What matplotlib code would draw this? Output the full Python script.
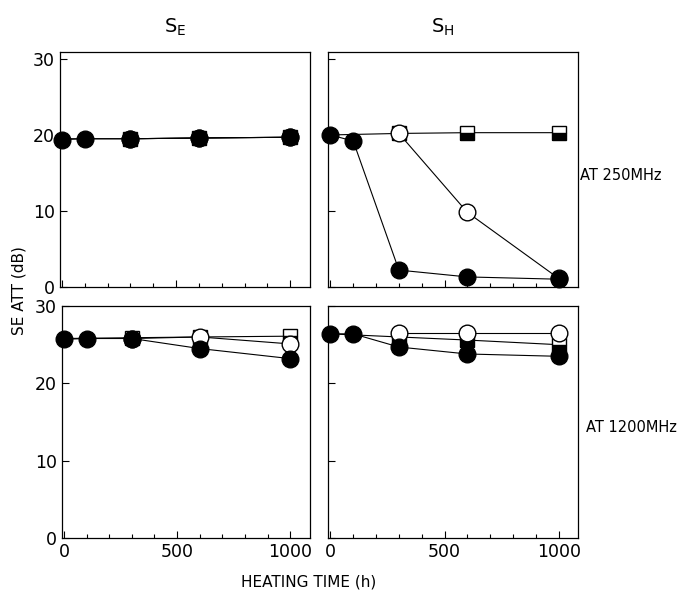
import numpy as np
import matplotlib
matplotlib.use('Agg')
import matplotlib.pyplot as plt
from matplotlib.ticker import MultipleLocator

plt.rcParams['font.family'] = ['DejaVu Sans']
plt.rcParams['mathtext.fontset'] = 'dejavusans'

# heating times (h)
t_all = [0, 100, 300, 600, 1000]
t_late = [300, 600, 1000]
t_sq = [0, 300, 600, 1000]

# S_E at 250 MHz
se250_filled = [19.4, 19.5, 19.5, 19.6, 19.7]
se250_open = [19.5, 19.6, 19.7]
se250_square = [19.5, 19.5, 19.6, 19.7]

# S_H at 250 MHz
sh250_filled = [20.0, 19.2, 2.2, 1.3, 1.0]
sh250_open = [20.2, 9.8, 1.1]
sh250_square = [20.0, 20.2, 20.3, 20.3]

# S_E at 1200 MHz
se1200_filled = [25.7, 25.8, 25.8, 24.5, 23.2]
se1200_open = [25.8, 26.0, 25.1]
se1200_square = [25.8, 25.9, 26.0, 26.1]

# S_H at 1200 MHz
sh1200_filled = [26.4, 26.4, 24.7, 23.8, 23.5]
sh1200_open = [26.5, 26.5, 26.5]
sh1200_square = [26.4, 26.0, 25.6, 25.0]

panels = [
    (se250_filled, se250_open, se250_square, 30.9),
    (sh250_filled, sh250_open, sh250_square, 30.9),
    (se1200_filled, se1200_open, se1200_square, 30),
    (sh1200_filled, sh1200_open, sh1200_square, 30),
]

fig = plt.figure(figsize=(6.85, 6.0), dpi=100)
pos = [[0.087, 0.522, 0.365, 0.391],
       [0.479, 0.522, 0.365, 0.391],
       [0.090, 0.103, 0.362, 0.387],
       [0.479, 0.103, 0.365, 0.387]]

ms = 12
for i, (filled, opn, sq, ytop) in enumerate(panels):
    ax = fig.add_axes(pos[i])
    ax.plot(t_sq, sq, color='black', lw=0.8, marker='s', ms=ms - 1.5,
            mfc='black', mec='black', fillstyle='bottom', markerfacecoloralt='white',
            markevery=[1, 2, 3], clip_on=False, zorder=3)
    ax.plot(t_late, opn, color='black', lw=0.8, marker='o', ms=ms,
            mfc='white', mec='black', mew=1.0, clip_on=False, zorder=4)
    ax.plot(t_all, filled, color='black', lw=0.8, marker='o', ms=ms,
            mfc='black', mec='black', clip_on=False, zorder=5)
    ax.set_xlim(-10, 1085)
    ax.set_ylim(0, ytop)
    ax.yaxis.set_major_locator(MultipleLocator(10))
    ax.xaxis.set_major_locator(MultipleLocator(500))
    ax.xaxis.set_minor_locator(MultipleLocator(100))
    ax.tick_params(direction='in', top=False, right=False, labelsize=12.5,
                   length=5, width=0.8)
    ax.tick_params(which='minor', direction='in', top=False, length=3, width=0.8)
    for s in ax.spines.values():
        s.set_linewidth(0.9)
    if i < 2:
        ax.set_xticklabels([])
    if i % 2 == 1:
        ax.set_yticklabels([])

fig.text(0.255, 0.955, r'$\mathrm{S_E}$', fontsize=14, ha='center', va='center')
fig.text(0.647, 0.955, r'$\mathrm{S_H}$', fontsize=14, ha='center', va='center')
fig.text(0.847, 0.708, 'AT 250MHz', fontsize=10.5, ha='left', va='center')
fig.text(0.855, 0.288, 'AT 1200MHz', fontsize=10.5, ha='left', va='center')
fig.text(0.028, 0.515, 'SE ATT (dB)', fontsize=11, ha='center', va='center',
         rotation=90)
fig.text(0.45, 0.03, 'HEATING TIME (h)', fontsize=11, ha='center', va='center')

fig.savefig('out.png', dpi=100)
